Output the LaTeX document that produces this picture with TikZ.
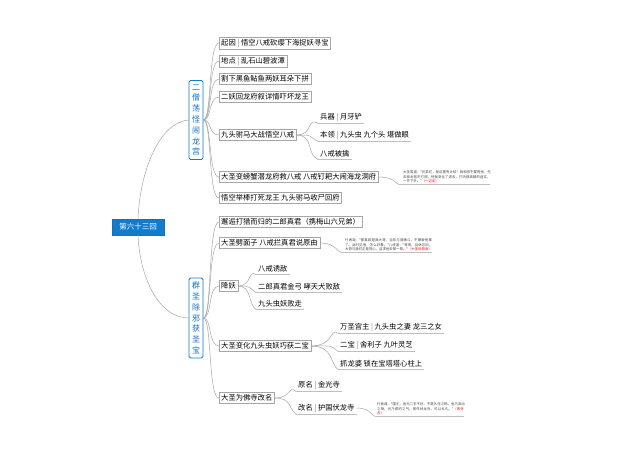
\documentclass[tikz,border=0pt]{standalone}
\usepackage{fontspec}
\newfontfamily\cjk{Noto Sans CJK SC}
\XeTeXlinebreaklocale "zh"
\XeTeXlinebreakskip=0pt plus 1pt
\begin{document}
\begin{tikzpicture}[x=1pt,y=-1pt,font=\cjk\fontsize{7.3}{9}\selectfont,
 box/.style={draw=gray!70,fill=white,inner sep=2pt,anchor=west,line width=0.4pt},
 leaf/.style={inner sep=2pt,anchor=west},
 vbox/.style={draw=cyan!60!blue,line width=0.8pt,fill=white,rounded corners=1.5pt,text=cyan!50!blue,align=center,inner xsep=3pt,inner ysep=4pt,font=\cjk\fontsize{8}{10.8}\selectfont},
 note/.style={anchor=west,align=left,text width=88pt,font=\cjk\fontsize{3.4}{4.6}\selectfont,text=black!75,inner sep=1pt},
 con/.style={draw=gray!70,line width=0.5pt},
 ul/.style={draw=gray!50,line width=0.4pt}]
\useasboundingbox (0,0) rectangle (640,451);
\fill[white] (0,0) rectangle (640,451);
\node[fill=cyan!60!blue,draw=cyan!50!blue,text=white,minimum width=52pt,minimum height=16pt,font=\cjk\fontsize{7.5}{9}\selectfont] (root) at (138,227) {第六十三回};
\node[vbox] (b1) at (196,120) {二\\僧\\荡\\怪\\闹\\龙\\宫};
\node[vbox] (b2) at (196,318) {群\\圣\\除\\邪\\获\\圣\\宝};
\draw[con] (root.north) .. controls (140,170) and (160,122) .. (b1.west);
\draw[con] (root.south) .. controls (140,280) and (160,318) .. (b2.west);
% branch 1
\node[box] (a1) at (219,43) {起因\ \textcolor{gray}{|}\ 悟空八戒砍缨下海捉妖寻宝};
\node[box] (a2) at (219,61) {地点\ \textcolor{gray}{|}\ 乱石山碧波潭};
\node[box] (a3) at (219,79) {割下黑鱼鲇鱼两妖耳朵下拼};
\node[box] (a4) at (219,97) {二妖回龙府叙详情吓坏龙王};
\node[box] (a5) at (219,135) {九头驸马大战悟空八戒};
\node[box] (a6) at (219,177) {大圣变螃蟹潜龙府救八戒 八戒钉耙大闹海龙洞府};
\node[box] (a7) at (219,198) {悟空举棒打死龙王 九头驸马收尸回府};
\foreach \n in {a1,a2,a3,a4,a5,a6,a7} \draw[con] (b1.east) .. controls (212,120) and (208,0|-\n.west) .. (\n.west);
\node[leaf] (c1) at (318,117) {兵器\ \textcolor{gray}{|}\ 月牙铲};
\node[leaf] (c2) at (318,135) {本领\ \textcolor{gray}{|}\ 九头虫 九个头 堪做眼};
\node[leaf] (c3) at (318,154) {八戒被擒};
\foreach \n in {c1,c2,c3} {\draw[con] (a5.east) .. controls (314,135) and (306,0|-\n.west) .. (\n.south west);
 \draw[ul] (\n.south west) -- (\n.south east);}
\node[note] (n1) at (402,177) {大圣笑道："兄弟们，我这里有计较！我和你不要慌张，先去那龙宫中打探，待我变化了进去，打听那妖精的虚实，一齐下手。"\textcolor{red}{（一边走）}};
\draw[con] (a6.east) .. controls (398,177) and (394,186) .. (n1.south west);
\draw[ul] (n1.south west) -- ++(88,0);
% branch 2
\node[box] (d1) at (219,222) {邂逅打猎而归的二郎真君（携梅山六兄弟）};
\node[box] (d2) at (219,243) {大圣劈面子 八戒拦真君说原由};
\node[box] (d3) at (219,286) {降妖};
\node[box] (d4) at (219,346) {大圣变化九头虫妖巧获二宝};
\node[box] (d5) at (219,398) {大圣为佛寺改名};
\foreach \n in {d1,d2,d3,d4,d5} \draw[con] (b2.east) .. controls (212,318) and (208,0|-\n.west) .. (\n.west);
\node[note] (n2) at (344,245) {行者道："那真君是我大哥，当年与我赌斗，不期被他拿了。此时见他，怎么好看。"八戒道："哥哥，且休忘旧，大哥与我们正是同心，且求他去帮一帮。"\textcolor{red}{（大圣说原由）}};
\draw[con] (d2.east) .. controls (338,243) and (336,254) .. (n2.south west);
\draw[ul] (n2.south west) -- ++(88,0);
\node[leaf] (e1) at (256,269) {八戒诱敌};
\node[leaf] (e2) at (256,287) {二郎真君金弓 哮天犬败敌};
\node[leaf] (e3) at (256,304) {九头虫妖败走};
\foreach \n in {e1,e2,e3} {\draw[con] (d3.east) .. controls (252,286) and (248,0|-\n.west) .. (\n.south west);
 \draw[ul] (\n.south west) -- (\n.south east);}
\node[leaf] (f1) at (338,327) {万圣宫主\ \textcolor{gray}{|}\ 九头虫之妻 龙三之女};
\node[leaf] (f2) at (338,345) {二宝\ \textcolor{gray}{|}\ 舍利子 九叶灵芝};
\node[leaf] (f3) at (338,364) {抓龙婆 锁在宝塔塔心柱上};
\foreach \n in {f1,f2,f3} {\draw[con] (d4.east) .. controls (334,346) and (330,0|-\n.west) .. (\n.south west);
 \draw[ul] (\n.south west) -- (\n.south east);}
\node[leaf] (g1) at (296,385) {原名\ \textcolor{gray}{|}\ 金光寺};
\node[leaf] (g2) at (296,408) {改名\ \textcolor{gray}{|}\ 护国伏龙寺};
\foreach \n in {g1,g2} {\draw[con] (d5.east) .. controls (292,398) and (288,0|-\n.west) .. (\n.south west);
 \draw[ul] (\n.south west) -- (\n.south east);}
\node[note] (n3) at (376,409) {行者道："国王，金光二字不好，不是久住之物。金乃流动之物，光乃熌灼之气，改作伏龙寺，可以长久。"\textcolor{red}{（改寺名）}};
\draw[con] (g2.east) .. controls (372,408) and (372,418) .. (n3.south west);
\draw[ul] (n3.south west) -- ++(88,0);
\end{tikzpicture}
\end{document}
